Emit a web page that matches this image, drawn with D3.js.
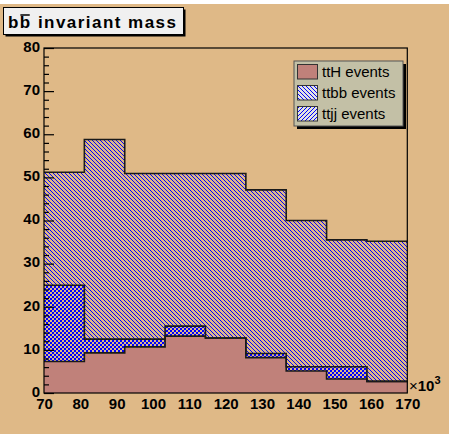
<!DOCTYPE html>
<html>
<head>
<meta charset="utf-8">
<script src="https://cdn.jsdelivr.net/npm/d3@7"></script>
<style>
  body { margin: 0; background: #ffffff; }
  text { font-family: "Liberation Sans", Arial, sans-serif; }
</style>
</head>
<body>
<svg id="chart" width="449" height="434"></svg>
<script>
// bin edges (x10^3) and stacked contents per bin
var binEdges = [70, 81.11, 92.22, 103.33, 114.44, 125.56, 136.67, 147.78, 158.89, 170];
var ttH  = [7.3, 9.3, 10.7, 13.2, 12.75, 8.2, 5.1, 3.25, 2.7];
var ttbb = [17.7, 3.2, 1.8, 2.3, 0, 0.95, 1.0, 2.85, 0];
var ttjj = [26.2, 46.3, 38.4, 35.4, 38.15, 37.95, 33.9, 29.4, 32.5];

var seriesKeys = ["ttH", "ttbb", "ttjj"];
var legendLabels = ["ttH events", "ttbb events", "ttjj events"];
var xTickValues = [70, 80, 90, 100, 110, 120, 130, 140, 150, 160, 170];
var yMajorTicks = [0, 10, 20, 30, 40, 50, 60, 70, 80];
var yMinorTicks = [2, 4, 6, 8, 12, 14, 16, 18, 22, 24, 26, 28, 32, 34, 36, 38, 42, 44, 46, 48, 52, 54, 56, 58, 62, 64, 66, 68, 72, 74, 76, 78];
var titleText = "bb invariant mass";

function drawStack() {
    let chart = d3.select("#chart");
    let frame = { left: 44, right: 407.3, top: 48, bottom: 393 };

    // canvas background
    chart.append("rect")
        .attr("x", 0).attr("y", 4)
        .attr("width", 449).attr("height", 430)
        .style("fill", "#dfb987");

    let defs = chart.append("defs");

    // pixel hatches on a 4x4 tile, like ROOT fill styles
    function hatch(id, test, bg) {
        let p = defs.append("pattern")
            .attr("id", id)
            .attr("patternUnits", "userSpaceOnUse")
            .attr("width", 4).attr("height", 4);
        if (bg) {
            p.append("rect").attr("width", 4).attr("height", 4).style("fill", bg);
        }
        for (let i = 0; i < 4; i++) {
            for (let j = 0; j < 4; j++) {
                if (test(i, j)) {
                    p.append("rect")
                        .attr("x", i).attr("y", j)
                        .attr("width", 1).attr("height", 1)
                        .style("fill", "#0000ff");
                }
            }
        }
    }
    let back = (i, j) => (i - j + 4) % 4 === 0;
    let fwd = (i, j) => (i + j) % 4 === 1;
    hatch("hatchBack", back, null);
    hatch("hatchFwd", fwd, null);
    hatch("legBack", back, "#e4e4e0");
    hatch("legFwd", fwd, "#e4e4e0");

    let x = d3.scaleLinear()
        .domain([70, 170])
        .range([frame.left, frame.right]);

    let y = d3.scaleLinear()
        .domain([0, 80])
        .range([frame.bottom, frame.top]);

    let tableData = [];
    for (let i = 0; i < binEdges.length - 1; i++) {
        tableData.push({ ttH: ttH[i], ttbb: ttbb[i], ttjj: ttjj[i] });
    }
    let stacked = d3.stack().keys(seriesKeys)(tableData);

    // one point per bin edge, last bin repeated so the step closes
    function stepPoints(s) {
        return binEdges.map(function (e, i) {
            let b = s[Math.min(i, s.length - 1)];
            return { x: e, top: b[1] };
        });
    }

    let area = d3.area()
        .curve(d3.curveStepAfter)
        .x(d => x(d.x))
        .y0(y(0))
        .y1(d => y(d.top));

    let outline = d3.line()
        .curve(d3.curveStepAfter)
        .x(d => x(d.x))
        .y(d => y(d.top));

    // THStack style: sum first, lower ones painted over it
    // ("/" over "\" gives the cross hatch of the ttbb band)
    let fills = { ttH: "#c0817a", ttbb: "url(#hatchFwd)", ttjj: "url(#hatchBack)" };
    [2, 1, 0].forEach(function (k) {
        chart.append("path")
            .datum(stepPoints(stacked[k]))
            .attr("d", area)
            .style("fill", fills[seriesKeys[k]]);
    });
    [2, 1, 0].forEach(function (k) {
        chart.append("path")
            .datum(stepPoints(stacked[k]))
            .attr("d", outline)
            .style("fill", "none")
            .style("stroke", "#1a1a1a")
            .style("stroke-width", 1.6);
    });

    // frame
    chart.append("rect")
        .attr("x", frame.left).attr("y", frame.top)
        .attr("width", frame.right - frame.left)
        .attr("height", frame.bottom - frame.top)
        .style("fill", "none")
        .style("stroke", "#000")
        .style("stroke-width", 1.2);

    // y axis: major + minor ticks pointing inside
    let yAxis = d3.axisLeft(y)
        .tickValues(yMajorTicks)
        .tickSize(-10)
        .tickPadding(4)
        .tickFormat(d3.format("d"));

    let yg = chart.append("g")
        .attr("transform", "translate(" + frame.left + ",0)")
        .call(yAxis);
    yg.select(".domain").remove();
    yg.selectAll("line").style("stroke", "#000").style("stroke-width", 1.2);
    yg.selectAll("text")
        .style("font-size", "15px")
        .style("font-weight", "bold")
        .style("fill", "#000")
        .attr("dy", "0.22em");

    let yMinor = d3.axisLeft(y)
        .tickValues(yMinorTicks)
        .tickSize(-5)
        .tickFormat("");
    let ym = chart.append("g")
        .attr("transform", "translate(" + frame.left + ",0)")
        .call(yMinor);
    ym.select(".domain").remove();
    ym.selectAll("line").style("stroke", "#000").style("stroke-width", 1.2);

    // x axis labels
    let xAxis = d3.axisBottom(x)
        .tickValues(xTickValues)
        .tickSize(0)
        .tickPadding(5)
        .tickFormat(d3.format("d"));
    let xg = chart.append("g")
        .attr("transform", "translate(0," + frame.bottom + ")")
        .call(xAxis);
    xg.select(".domain").remove();
    xg.selectAll("text")
        .style("font-size", "15px")
        .style("font-weight", "bold")
        .style("fill", "#000");

    // x10^3 exponent
    let expo = chart.append("text")
        .attr("x", 409)
        .attr("y", 391)
        .style("font-size", "15px")
        .style("fill", "#000");
    expo.append("tspan").text("\u00d7").style("font-weight", "normal");
    expo.append("tspan").text("10").style("font-weight", "bold");
    expo.append("tspan").text("3")
        .attr("dy", -7)
        .style("font-size", "11px")
        .style("font-weight", "bold");

    // legend
    let leg = chart.append("g");
    leg.append("rect")
        .attr("x", 297).attr("y", 64)
        .attr("width", 109).attr("height", 65)
        .style("fill", "#000");
    leg.append("rect")
        .attr("x", 294).attr("y", 61)
        .attr("width", 109).attr("height", 65)
        .style("fill", "#c3c0a6")
        .style("stroke", "#555")
        .style("stroke-width", 1);

    let legFills = ["#c0817a", "url(#legBack)", "url(#legFwd)"];
    legendLabels.forEach(function (label, i) {
        let rowY = 64.5 + i * 21;
        leg.append("rect")
            .attr("x", 297.5).attr("y", rowY)
            .attr("width", 20).attr("height", 14.5)
            .style("fill", legFills[i])
            .style("stroke", "#333")
            .style("stroke-width", 1);
        leg.append("text")
            .attr("x", 322)
            .attr("y", rowY + 12)
            .style("font-size", "15px")
            .style("fill", "#000")
            .text(label);
    });

    // title box
    chart.append("rect")
        .attr("x", 5.5).attr("y", 9.5)
        .attr("width", 180).attr("height", 27)
        .style("fill", "#000");
    chart.append("rect")
        .attr("x", 3.5).attr("y", 7.5)
        .attr("width", 180).attr("height", 27)
        .style("fill", "#f0f0f0")
        .style("stroke", "#000")
        .style("stroke-width", 1);
    let title = chart.append("text")
        .attr("x", 8)
        .attr("y", 28)
        .attr("textLength", 168)
        .attr("lengthAdjust", "spacing")
        .style("font-size", "17px")
        .style("font-weight", "bold")
        .style("fill", "#000")
        .text(titleText);

    // bar over the second b
    let node = title.node();
    let p0 = node.getStartPositionOfChar(1);
    let p1 = node.getEndPositionOfChar(1);
    chart.append("line")
        .attr("x1", p0.x + 0.5).attr("x2", p1.x - 0.5)
        .attr("y1", 15).attr("y2", 15)
        .style("stroke", "#000")
        .style("stroke-width", 1.5);
}

drawStack();
</script>
</body>
</html>
